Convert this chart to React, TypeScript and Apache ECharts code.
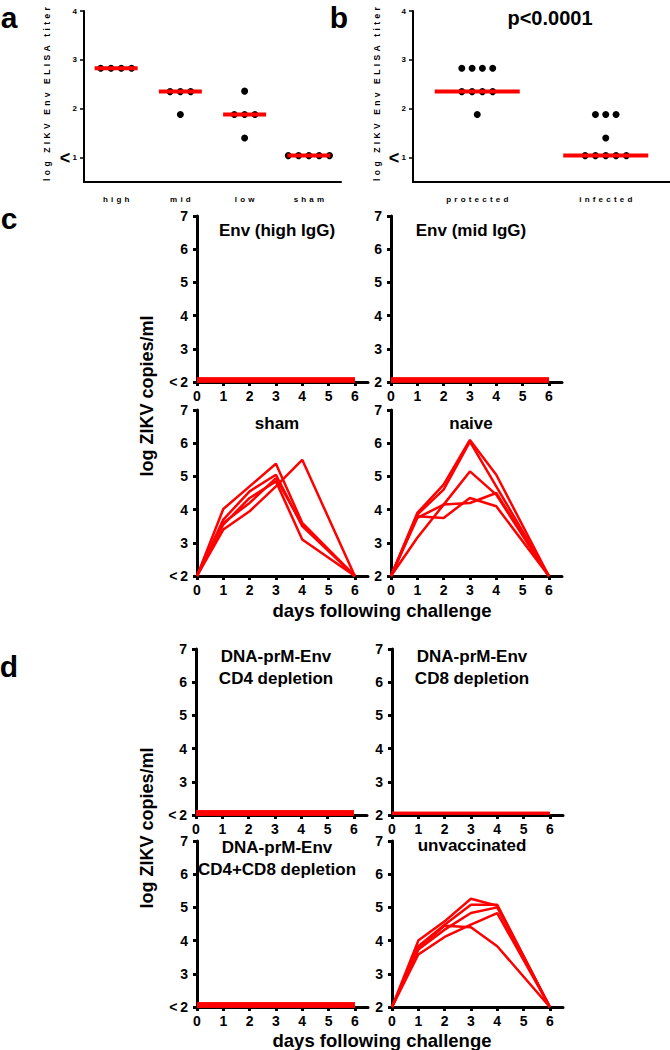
import React, { useEffect, useRef } from 'react';
import * as echarts from 'echarts';

const FONT = '"Liberation Sans", Arial, Helvetica, sans-serif';
const RED = '#ff0000';

// ---- panel a / b data ----
const titerCats = ['high', 'mid', 'low', 'sham'];
const titerHigh = [2.83, 2.83, 2.83, 2.83];
const titerMid = [2.35, 2.35, 2.35, 1.88];
const titerLow = [2.36, 1.88, 1.88, 1.88, 1.4];
const titerSham = [1.04, 1.04, 1.04, 1.04, 1.04];
const titerMedians = [2.83, 2.35, 1.88, 1.04];

const outcomeCats = ['protected', 'infected'];
const outcomeProtected = [2.83, 2.83, 2.83, 2.83, 2.35, 2.35, 2.35, 2.35, 1.88];
const outcomeInfected = [1.88, 1.88, 1.88, 1.4, 1.04, 1.04, 1.04, 1.04, 1.04];
const outcomeMedians = [2.35, 1.04];
const titerTicks = [1, 2, 3, 4];

// ---- panel c / d data (log ZIKV copies/ml, days 0,1,2,3,4,6) ----
const dayTicks = [0, 1, 2, 3, 4, 5, 6];
const sampledDays = [0, 1, 2, 3, 4, 6];

const envHighIgG = [
  [2.06, 2.06, 2.06, 2.06, 2.06, 2.06],
  [2.06, 2.06, 2.06, 2.06, 2.06, 2.06],
  [2.06, 2.06, 2.06, 2.06, 2.06, 2.06],
];
const envMidIgG = [
  [2.06, 2.06, 2.06, 2.06, 2.06, 2.06],
  [2.06, 2.06, 2.06, 2.06, 2.06, 2.06],
  [2.06, 2.06, 2.06, 2.06, 2.06, 2.06],
];
const shamAnimals = [
  [2, 4.02, 4.7, 5.38, 3.6, 2],
  [2, 3.7, 4.55, 5.05, 3.5, 2],
  [2, 3.55, 4.35, 4.85, 3.1, 2],
  [2, 3.4, 3.95, 4.7, 5.5, 2],
  [2, 3.6, 4.2, 4.95, 3.55, 2],
];
const naiveAnimals = [
  [2, 3.9, 4.75, 6.1, 5.05, 2],
  [2, 3.85, 4.6, 6.05, 4.7, 2],
  [2, 3.75, 4.15, 5.15, 4.45, 2],
  [2, 3.8, 3.75, 4.35, 4.1, 2],
  [2, 3.15, 4.15, 4.2, 4.5, 2],
];
const cd4Depletion = [
  [2.06, 2.06, 2.06, 2.06, 2.06, 2.06],
  [2.06, 2.06, 2.06, 2.06, 2.06, 2.06],
];
const cd8Depletion = [
  [2.05, 2.05, 2.05, 2.05, 2.05, 2.05],
  [2.05, 2.05, 2.05, 2.05, 2.05, 2.05],
];
const cd4cd8Depletion = [
  [2.06, 2.06, 2.06, 2.06, 2.06, 2.06],
  [2.06, 2.06, 2.06, 2.06, 2.06, 2.06],
];
const unvaccinatedAnimals = [
  [2, 4.0, 4.58, 5.26, 5.05, 2],
  [2, 3.83, 4.48, 5.08, 5.08, 2],
  [2, 3.73, 4.33, 4.83, 5.0, 2],
  [2, 3.58, 4.11, 4.48, 4.83, 2],
  [2, 3.75, 4.45, 4.4, 3.83, 2],
];

const spaced = (s: string) => s.split('').join('\u2009\u2009');

function spreadOffsets(vals: number[], spacing: number) {
  const counts: Record<string, number> = {};
  vals.forEach((v) => (counts[v] = (counts[v] || 0) + 1));
  const seen: Record<string, number> = {};
  return vals.map((v) => {
    const n = counts[v];
    const i = seen[v] || 0;
    seen[v] = i + 1;
    return (i - (n - 1) / 2) * spacing;
  });
}

export default function App() {
  const ref = useRef<HTMLDivElement>(null);
  useEffect(() => {
    if (!ref.current) return;
    const chart = echarts.init(ref.current, undefined, { renderer: 'svg' });

    const grid: any[] = [];
    const xAxis: any[] = [];
    const yAxis: any[] = [];
    const series: any[] = [];
    const graphic: any[] = [];

    // ----- dot plots a / b -----
    const dotPanels = [
      { left: 84, cats: titerCats, groups: [titerHigh, titerMid, titerLow, titerSham], medians: titerMedians, barW: 43 },
      { left: 413, cats: outcomeCats, groups: [outcomeProtected, outcomeInfected], medians: outcomeMedians, barW: 85 },
    ];
    dotPanels.forEach((p) => {
      const gi = grid.length;
      grid.push({ left: p.left, top: 11, width: 257, height: 171 });
      xAxis.push({
        gridIndex: gi,
        type: 'category',
        data: p.cats.map(spaced),
        axisLine: { lineStyle: { color: '#000', width: 2 } },
        axisTick: { alignWithLabel: true, length: 4, lineStyle: { color: '#000', width: 1.5 } },
        axisLabel: { color: '#000', fontSize: 8, fontWeight: 'bold', fontFamily: FONT, margin: 13 },
        splitLine: { show: false },
      });
      yAxis.push({
        gridIndex: gi,
        type: 'value',
        min: 0.5,
        max: 4,
        axisLine: { show: true, lineStyle: { color: '#000', width: 2 } },
        axisTick: { show: true, customValues: titerTicks, length: 4, lineStyle: { color: '#000', width: 1.5 } },
        axisLabel: {
          customValues: titerTicks,
          margin: 7,
          formatter: (v: number) => (v === 1 ? '{lt|<}{sm| 1}' : '{sm|' + v + '}'),
          rich: {
            lt: { fontSize: 18, fontWeight: 'bold', fontFamily: FONT, color: '#000' },
            sm: { fontSize: 8, fontWeight: 'bold', fontFamily: FONT, color: '#000' },
          },
        },
        splitLine: { show: false },
      });
      p.groups.forEach((vals, ci) => {
        const offs = spreadOffsets(vals, 10.3);
        series.push({
          type: 'scatter',
          xAxisIndex: gi,
          yAxisIndex: gi,
          symbol: 'circle',
          symbolSize: 7,
          itemStyle: { color: '#000', opacity: 1 },
          z: 2,
          data: vals.map((v, i) => ({ value: [ci, v], symbolOffset: [offs[i], 0] })),
        });
      });
      series.push({
        type: 'scatter',
        xAxisIndex: gi,
        yAxisIndex: gi,
        symbol: 'rect',
        symbolSize: [p.barW, 4],
        itemStyle: { color: RED, opacity: 1 },
        z: 3,
        data: p.medians.map((m, ci) => [ci, m]),
      });
    });

    // ----- viral load panels c / d -----
    const linePanels = [
      { left: 197, top: 216, data: envHighIgG, lt: true, w: 5, title: ['Env (high IgG)'], ty: 230 },
      { left: 391, top: 216, data: envMidIgG, lt: false, w: 5, title: ['Env (mid IgG)'], ty: 230 },
      { left: 197, top: 410, data: shamAnimals, lt: true, w: 2.5, title: ['sham'], ty: 423 },
      { left: 391, top: 410, data: naiveAnimals, lt: false, w: 2.5, title: ['naive'], ty: 423 },
      { left: 196, top: 649, data: cd4Depletion, lt: true, w: 5.5, title: ['DNA-prM-Env', 'CD4 depletion'], ty: 656 },
      { left: 392, top: 649, data: cd8Depletion, lt: false, w: 3, title: ['DNA-prM-Env', 'CD8 depletion'], ty: 656 },
      { left: 197, top: 841, data: cd4cd8Depletion, lt: true, w: 5.5, title: ['DNA-prM-Env', 'CD4+CD8 depletion'], ty: 847 },
      { left: 392, top: 841, data: unvaccinatedAnimals, lt: false, w: 2.5, title: ['unvaccinated'], ty: 845 },
    ];
    linePanels.forEach((p) => {
      const gi = grid.length;
      grid.push({ left: p.left, top: p.top, width: 171, height: 166 });
      xAxis.push({
        gridIndex: gi,
        type: 'value',
        min: 0,
        max: 6.5,
        axisLine: { lineStyle: { color: '#000', width: 3 } },
        axisTick: { show: true, customValues: dayTicks, length: 4, lineStyle: { color: '#000', width: 3 } },
        axisLabel: { customValues: dayTicks, color: '#000', fontSize: 14, fontWeight: 'bold', fontFamily: FONT, margin: 7 },
        splitLine: { show: false },
      });
      yAxis.push({
        gridIndex: gi,
        type: 'value',
        min: 2,
        max: 7,
        interval: 1,
        axisLine: { show: true, lineStyle: { color: '#000', width: 3 } },
        axisTick: { show: true, length: 4, lineStyle: { color: '#000', width: 3 } },
        axisLabel: {
          color: '#000',
          fontSize: 14,
          fontWeight: 'bold',
          fontFamily: FONT,
          margin: 9,
          formatter: (v: number) => (v === 2 && p.lt ? '<\u20092' : String(v)),
        },
        splitLine: { show: false },
      });
      p.data.forEach((vals) => {
        series.push({
          type: 'line',
          xAxisIndex: gi,
          yAxisIndex: gi,
          symbol: 'none',
          z: 3,
          lineStyle: { color: RED, width: p.w },
          data: sampledDays.map((d, i) => [d, vals[i]]),
        });
      });
      p.title.forEach((t, k) => {
        graphic.push({
          type: 'text',
          x: p.left + 80,
          y: p.ty + k * 22,
          style: { text: t, font: `bold 17px ${FONT}`, fill: '#000', textAlign: 'center', textVerticalAlign: 'middle' },
        });
      });
    });

    const txt = (text: string, x: number, y: number, size: number, extra: any = {}) => ({
      type: 'text',
      x,
      y,
      ...extra,
      style: { text, font: `bold ${size}px ${FONT}`, fill: '#000', textAlign: 'center', textVerticalAlign: 'middle' },
    });

    graphic.push(txt('a', 9, 17, 30));
    graphic.push(txt('b', 339, 17, 30));
    graphic.push(txt('c', 9, 218, 30));
    graphic.push(txt('d', 9, 666, 30));
    graphic.push(txt('p<0.0001', 550, 18, 20));
    const elisaLabel = 'log  ZIKV  Env  ELISA  titer'.split('  ').map(spaced).join('\u2003');
    graphic.push(txt(elisaLabel, 47, 94, 8.5, { rotation: Math.PI / 2 }));
    graphic.push(txt(elisaLabel, 377, 94, 8.5, { rotation: Math.PI / 2 }));
    graphic.push(txt('log ZIKV copies/ml', 147, 396, 18, { rotation: Math.PI / 2 }));
    graphic.push(txt('log ZIKV copies/ml', 147, 828, 18, { rotation: Math.PI / 2 }));
    graphic.push(txt('days following challenge', 382, 610, 18.5));
    graphic.push(txt('days following challenge', 382, 1040, 18.5));

    chart.setOption({
      animation: false,
      backgroundColor: '#fff',
      textStyle: { fontFamily: FONT },
      grid,
      xAxis,
      yAxis,
      series,
      graphic,
    });
    return () => chart.dispose();
  }, []);
  return (
    <div
      ref={ref}
      style={{ position: 'fixed', left: 0, top: 0, width: 670, height: 1050, background: '#fff' }}
    />
  );
}
